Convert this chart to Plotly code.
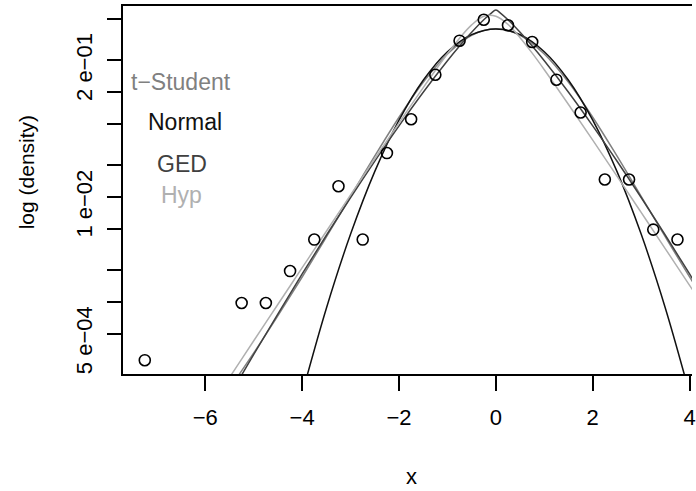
import math
import plotly.graph_objects as go

# Empirical density of the standardised returns (histogram bin midpoints, width 0.5)
bin_mid = [-7.25, -5.25, -4.75, -4.25, -3.75, -3.25, -2.75, -2.25, -1.75, -1.25,
           -0.75, -0.25, 0.25, 0.75, 1.25, 1.75, 2.25, 2.75, 3.25, 3.75]
emp_density = [2.79e-4, 9.77e-4, 9.77e-4, 1.97e-3, 3.93e-3, 1.265e-2, 3.93e-3, 2.62e-2, 5.50e-2, 0.146,
               0.308, 0.488, 0.432, 0.299, 0.131, 0.0637, 0.01466, 0.01466, 4.89e-3, 3.93e-3]

# Fitted densities, evaluated on a grid of x values
normal_x = [-4.0, -3.5, -3.0, -2.5, -2.0, -1.5, -1.0, -0.5, 0.0, 0.5, 1.0, 1.5, 2.0, 2.5, 3.0, 3.5, 4.0]
normal_d = [1.34e-4, 8.73e-4, 4.43e-3, 0.01753, 0.0540, 0.1295, 0.242, 0.352, 0.399,
            0.352, 0.242, 0.1295, 0.0540, 0.01753, 4.43e-3, 8.73e-4, 1.34e-4]

tstud_x = [-5.5, -5.0, -4.5, -4.0, -3.5, -3.0, -2.5, -2.0, -1.5, -1.0, -0.5, 0.0,
           0.5, 1.0, 1.5, 2.0, 2.5, 3.0, 3.5, 4.0, 4.5]
tstud_d = [1.50e-4, 3.27e-4, 7.41e-4, 1.73e-3, 4.16e-3, 0.01014, 0.0246, 0.0575, 0.1238, 0.230, 0.347, 0.400,
           0.347, 0.230, 0.1238, 0.0575, 0.0246, 0.01014, 4.16e-3, 1.73e-3, 7.41e-4]

ged_x = [-5.5, -5.0, -4.5, -4.0, -3.5, -3.0, -2.5, -2.0, -1.5, -1.0, -0.75, -0.5, -0.25, -0.1, 0.0,
         0.1, 0.25, 0.5, 0.75, 1.0, 1.5, 2.0, 2.5, 3.0, 3.5, 4.0, 4.5]
ged_d = [1.28e-4, 3.17e-4, 7.71e-4, 1.85e-3, 4.32e-3, 9.88e-3, 0.0220, 0.0476, 0.0994, 0.198, 0.2735, 0.370,
         0.487, 0.561, 0.603,
         0.561, 0.487, 0.370, 0.2735, 0.198, 0.0994, 0.0476, 0.0220, 9.88e-3, 4.32e-3, 1.85e-3, 7.71e-4]

hyp_x = [-6.0, -5.5, -5.0, -4.5, -4.0, -3.5, -3.0, -2.5, -2.0, -1.5, -1.0, -0.75, -0.5, -0.25, 0.0,
         0.25, 0.5, 0.75, 1.0, 1.5, 2.0, 2.5, 3.0, 3.5, 4.0, 4.5]
hyp_d = [8.57e-5, 1.91e-4, 4.27e-4, 9.51e-4, 2.12e-3, 4.72e-3, 0.01045, 0.02312, 0.0508, 0.110, 0.231, 0.325,
         0.4355, 0.526, 0.527, 0.440, 0.329, 0.2344, 0.163, 0.0760, 0.0348, 0.0158, 7.13e-3, 3.21e-3,
         1.44e-3, 6.47e-4]

legend_names = ["t\u2212Student", "Normal", "GED", "Hyp"]
legend_colors = ["#808080", "#111111", "#404040", "#b0b0b0"]

x_ticks = [-6, -4, -2, 0, 2, 4]
y_ticks = [0.5, 0.2, 0.1, 0.05, 0.02, 0.01, 0.005, 0.002, 0.001, 0.0005]
y_labels = {0.2: "2 e\u221201", 0.01: "1 e\u221202", 0.0005: "5 e\u221204"}

FONT = "Liberation Sans, Arial, Helvetica, sans-serif"

# plot-area geometry in pixels (used to place free text)
L, R_, T, B = 122.7, 696.0, 5.7, 373.7
PX_PER_DECADE = 105.0
def px_x(p):
    return (p - L) / (R_ - L)
def px_y(p):
    return (B - p) / (B - T)

fig = go.Figure()

curves = [
    (tstud_x, tstud_d, legend_colors[0]),
    (normal_x, normal_d, legend_colors[1]),
    (ged_x, ged_d, legend_colors[2]),
    (hyp_x, hyp_d, legend_colors[3]),
]
for cx, cy, col in curves:
    fig.add_trace(go.Scatter(x=cx, y=cy, mode="lines",
                             line=dict(color=col, width=1.5, shape="spline", smoothing=1.0),
                             showlegend=False, hoverinfo="skip"))

fig.add_trace(go.Scatter(x=bin_mid, y=emp_density, mode="markers",
                         marker=dict(symbol="circle-open", size=11, color="black",
                                     line=dict(width=1.6, color="black")),
                         showlegend=False, cliponaxis=False))

# Legend drawn as coloured text labels
legend_px = [(181.5, 82), (185, 122), (181.8, 163.5), (181.7, 195)]
for name, col, (px, py) in zip(legend_names, legend_colors, legend_px):
    fig.add_annotation(x=px_x(px), y=px_y(py), xref="paper", yref="paper",
                       text=name, showarrow=False, xanchor="center", yanchor="middle",
                       font=dict(family=FONT, size=23, color=col))

# y tick labels, written parallel to the axis next to their ticks
for v, lab in y_labels.items():
    fig.add_annotation(x=px_x(84), y=math.log10(v) - 7 / PX_PER_DECADE, xref="paper", yref="y",
                       text=lab, textangle=-90, showarrow=False,
                       xanchor="center", yanchor="middle",
                       font=dict(family=FONT, size=22, color="black"))

# Axis titles
fig.add_annotation(x=px_x(413.6), y=px_y(476), xref="paper", yref="paper",
                   text="x", showarrow=False, xanchor="center", yanchor="middle",
                   font=dict(family=FONT, size=22, color="black"))
fig.add_annotation(x=px_x(25), y=px_y(172), xref="paper", yref="paper",
                   text="log (density)", textangle=-90, showarrow=False,
                   xanchor="center", yanchor="middle",
                   font=dict(family=FONT, size=21, color="black"))

fig.update_xaxes(range=[-7.70, 4.05], tickmode="array", tickvals=x_ticks,
                 ticks="outside", ticklen=15, tickwidth=1.5, tickcolor="black",
                 showline=True, linecolor="black", linewidth=1.5, mirror=True,
                 showgrid=False, zeroline=False, ticklabelstandoff=8,
                 ticklabeloverflow="allow",
                 tickfont=dict(family=FONT, size=22, color="black"))
fig.update_yaxes(type="log", range=[-3.686, -0.181], tickmode="array",
                 tickvals=y_ticks, ticktext=[""] * len(y_ticks),
                 ticks="outside", ticklen=14, tickwidth=1.5, tickcolor="black",
                 showline=True, linecolor="black", linewidth=1.5,
                 showgrid=False, zeroline=False)

fig.update_layout(width=696, height=491, margin=dict(l=123, r=0, t=6, b=117),
                  paper_bgcolor="white", plot_bgcolor="white",
                  font=dict(family=FONT, color="black"))

fig.write_html("out.html")
